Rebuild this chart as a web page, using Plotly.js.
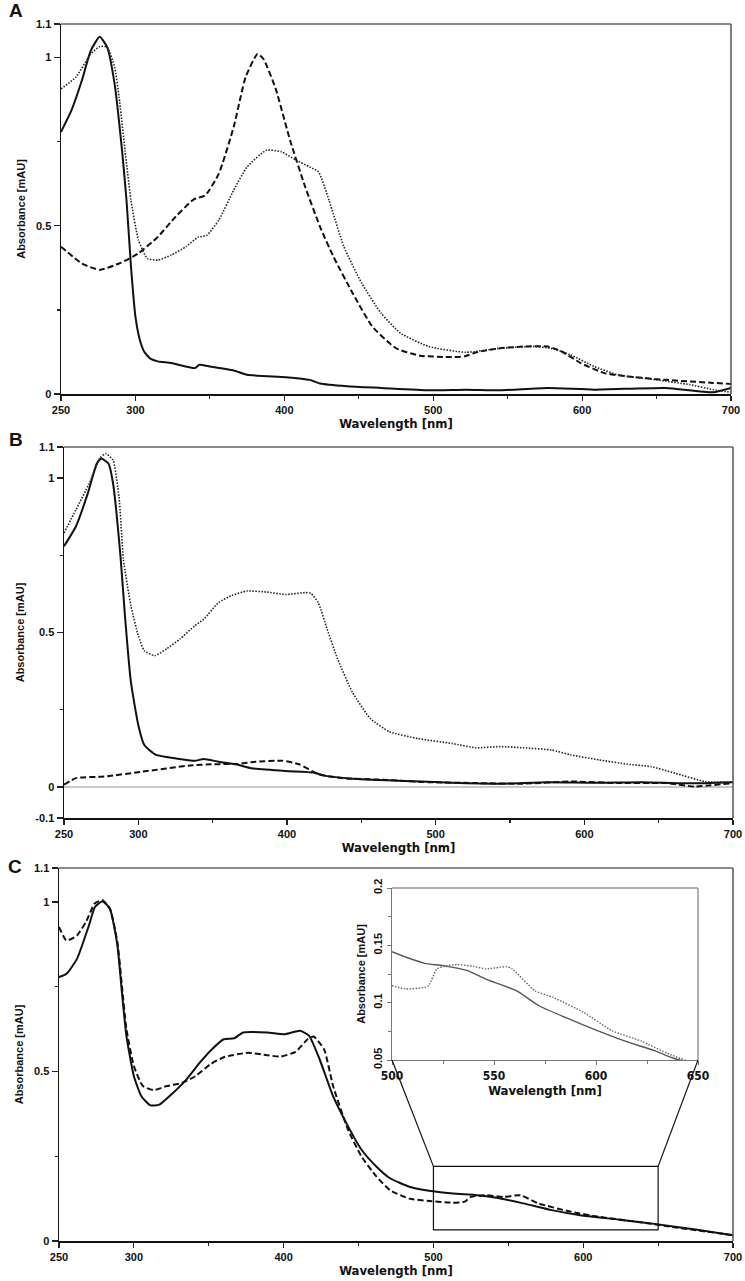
<!DOCTYPE html>
<html>
<head>
<meta charset="utf-8">
<script src="https://cdn.plot.ly/plotly-3.0.1.min.js"></script>
<style>html,body{margin:0;padding:0;background:#fff;}#chart{width:745px;height:1281px;}</style>
</head>
<body>
<div id="chart"></div>
<script>
// ---------------- DATA ----------------
// Panel A
const aSolidX = [250,257,264,270,276,281,286,291,294,297,300,303,306,310,315,324,340,343,350,366,375,401,417,424,442,465,497,522,545,577,608,656,688,700];
const aSolidY = [0.779,0.843,0.932,1.021,1.062,1.031,0.922,0.724,0.576,0.379,0.23,0.16,0.125,0.105,0.097,0.092,0.077,0.087,0.082,0.070,0.057,0.050,0.042,0.031,0.023,0.018,0.011,0.013,0.011,0.018,0.013,0.018,0.005,0.018];
const aDotX = [250,260,270,276,281,286,289,293,297,302,308,315,324,334,342,348,356,366,375,388,398,408,417,423,430,440,452,465,478,497,522,545,567,579,592,608,624,650,672,688,700];
const aDotY = [0.907,0.942,1.011,1.033,1.031,0.972,0.883,0.724,0.576,0.458,0.403,0.398,0.413,0.438,0.466,0.472,0.517,0.606,0.675,0.725,0.720,0.695,0.675,0.660,0.576,0.438,0.329,0.240,0.181,0.141,0.124,0.136,0.141,0.136,0.117,0.082,0.057,0.042,0.028,0.013,0.005];
const aDashX = [250,264,276,289,302,315,327,339,347,356,366,374,382,386,394,404,414,424,433,446,459,475,491,510,521,529,545,561,577,586,599,615,631,656,688,700];
const aDashY = [0.438,0.388,0.369,0.388,0.418,0.467,0.527,0.578,0.591,0.655,0.794,0.942,1.011,0.996,0.910,0.752,0.616,0.497,0.408,0.299,0.201,0.136,0.114,0.110,0.112,0.124,0.136,0.141,0.141,0.127,0.092,0.062,0.052,0.042,0.033,0.030];
// Panel B
const bSolidX = [250,258,266,272,275,280,283,288,291,295,300,304,312,325,338,344,354,367,376,399,418,425,444,479,511,543,575,607,639,671,700];
const bSolidY = [0.779,0.843,0.950,1.046,1.063,1.046,0.982,0.747,0.554,0.340,0.200,0.136,0.104,0.093,0.085,0.091,0.082,0.072,0.061,0.052,0.047,0.037,0.027,0.020,0.014,0.011,0.016,0.014,0.016,0.012,0.016];
const bDotX = [250,258,267,274,278,283,287,290,295,300,304,311,319,328,338,344,354,363,373,386,399,412,416,421,427,434,444,456,469,488,511,527,543,559,578,591,610,629,645,661,681,700];
const bDotY = [0.822,0.897,0.982,1.063,1.079,1.057,0.939,0.736,0.586,0.490,0.441,0.425,0.447,0.479,0.522,0.543,0.597,0.620,0.634,0.631,0.623,0.629,0.627,0.597,0.511,0.415,0.307,0.222,0.179,0.157,0.141,0.127,0.131,0.127,0.120,0.104,0.088,0.074,0.066,0.045,0.018,0.016];
const bDashX = [250,258,277,303,335,351,367,379,397,408,421,437,463,495,527,559,591,623,655,674,700];
const bDashY = [0.008,0.029,0.034,0.050,0.070,0.074,0.075,0.082,0.085,0.074,0.042,0.029,0.024,0.016,0.013,0.011,0.018,0.013,0.013,0.002,0.013];
// Panel C
const cSolidX = [250,255,262,270,274,279,284,289,292,295,300,305,311,317,325,335,344,352,360,367,373,389,401,411,417,424,433,443,452,462,471,484,497,513,529,541,560,579,598,624,650,675,700];
const cSolidY = [0.778,0.788,0.832,0.931,0.985,1.002,0.980,0.872,0.733,0.605,0.486,0.427,0.400,0.402,0.432,0.476,0.526,0.565,0.595,0.598,0.615,0.615,0.610,0.620,0.605,0.536,0.427,0.338,0.269,0.219,0.185,0.160,0.148,0.140,0.135,0.128,0.111,0.091,0.076,0.063,0.049,0.034,0.017];
const cDashX = [250,255,262,268,274,279,284,289,292,295,300,306,313,322,332,341,351,360,376,389,398,408,416,420,427,433,443,452,462,471,484,497,513,521,525,535,547,558,570,592,611,637,662,700];
const cDashY = [0.926,0.886,0.901,0.941,0.996,1.005,0.980,0.881,0.753,0.625,0.516,0.457,0.445,0.457,0.466,0.486,0.521,0.542,0.555,0.548,0.544,0.558,0.595,0.603,0.565,0.457,0.328,0.249,0.190,0.150,0.125,0.118,0.113,0.116,0.130,0.135,0.130,0.135,0.111,0.086,0.071,0.056,0.040,0.017];
// Inset (zoom of panel C)
const insSolidX = [500,507,516,525,537,546,561,572,587,601,615,629,638,643];
const insSolidY = [0.1445,0.1396,0.1343,0.1323,0.1279,0.1206,0.1104,0.0973,0.0856,0.0754,0.0660,0.0579,0.0515,0.049];
const insDotX = [500,507,516,518,522,527,532,540,546,556,559,570,579,594,608,622,636,644];
const insDotY = [0.1148,0.1119,0.1133,0.1148,0.1294,0.1323,0.1332,0.1317,0.1294,0.1314,0.1294,0.1104,0.1046,0.0914,0.0754,0.0666,0.0550,0.0497];
// Ticks / labels
const xTicks = [250,300,400,500,600,700];
const xMinor = [350,450,550,650];
const yTicksAC = [0,0.5,1,1.1];
const yTicksB = [-0.1,0,0.5,1,1.1];
const yMinor = [0.25,0.75];
const insXTicks = [500,550,600,650];
const insXMinor = [525,575,625];
const insYTicks = [0.05,0.1,0.15,0.2];
const insYMinor = [0.075,0.125,0.175];
const zoomBox = {x0:500, x1:650, y0:0.033, y1:0.22};
const panelLetters = ['A','B','C'];
const xTitle = 'Wavelength [nm]';
const yTitle = 'Absorbance [mAU]';

// ---------------- LAYOUT ----------------
const W = 745, H = 1281;
const dx = (l, r) => [l / W, r / W];
const dy = (top, bottom) => [1 - bottom / H, 1 - top / H];

const FONT = 'Liberation Sans, Arial, sans-serif';
const NARROW = 'DejaVu Sans Condensed, Liberation Sans Narrow, Arial Narrow, sans-serif';

const solid = {color:'#111', width:2, dash:'solid'};
const dashed = {color:'#111', width:2, dash:'6px,3px'};
const dotted = {color:'#222', width:1.6, dash:'1.5px,1.5px'};

function tr(x, y, line, xa, ya) {
  return {x:x, y:y, type:'scatter', mode:'lines', line:Object.assign({shape:'spline', smoothing:0.5}, line), xaxis:xa, yaxis:ya, showlegend:false, hoverinfo:'skip'};
}

const data = [
  tr(aSolidX, aSolidY, solid, 'x', 'y'),
  tr(aDashX, aDashY, dashed, 'x', 'y'),
  tr(aDotX, aDotY, dotted, 'x', 'y'),
  tr(bSolidX, bSolidY, solid, 'x2', 'y2'),
  tr(bDashX, bDashY, dashed, 'x2', 'y2'),
  tr(bDotX, bDotY, dotted, 'x2', 'y2'),
  tr(cSolidX, cSolidY, solid, 'x3', 'y3'),
  tr(cDashX, cDashY, dashed, 'x3', 'y3'),
  tr(insSolidX, insSolidY, {color:'#555', width:1.4}, 'x4', 'y4'),
  tr(insDotX, insDotY, {color:'#666', width:1.4, dash:'1.5px,1.5px'}, 'x4', 'y4')
];

function xAxis(domain, anchor) {
  return {
    domain: domain, anchor: anchor, range: [250, 700],
    tickmode: 'array', tickvals: xTicks, ticktext: xTicks.map(String),
    ticks: 'outside', ticklen: 5, tickwidth: 1.2, tickcolor: '#222',
    showline: true, linecolor: '#111', linewidth: 1.5,
    showgrid: false, zeroline: false, automargin: false,
    tickfont: {family: FONT, size: 11, weight: 'bold', color: '#111'},
    minor: {tickmode: 'array', tickvals: xMinor, ticks: 'outside', ticklen: 3, tickcolor: '#222', showgrid: false},
    title: {text: xTitle, font: {family: NARROW, size: 13, weight: 'bold', color: '#111'}, standoff: 4}
  };
}
function yAxis(domain, anchor, range, ticks, zl) {
  return {
    domain: domain, anchor: anchor, range: range,
    tickmode: 'array', tickvals: ticks, ticktext: ticks.map(String),
    ticks: 'outside', ticklen: 6, tickwidth: 1.2, tickcolor: '#222',
    showline: true, linecolor: '#111', linewidth: 1.5,
    showgrid: false, zeroline: zl, zerolinecolor: '#c8c8c8', zerolinewidth: 1.2, automargin: false,
    tickfont: {family: FONT, size: 11, weight: 'bold', color: '#111'},
    minor: {tickmode: 'array', tickvals: yMinor, ticks: 'outside', ticklen: 3, tickcolor: '#222', showgrid: false},
    title: {text: yTitle, font: {family: FONT, size: 11, weight: 'bold', color: '#111'}, standoff: 8}
  };
}

const layout = {
  width: W, height: H,
  margin: {l: 0, r: 0, t: 0, b: 0},
  paper_bgcolor: '#fff', plot_bgcolor: 'rgba(0,0,0,0)',
  showlegend: false,
  xaxis: xAxis(dx(61, 731), 'y'),
  yaxis: yAxis(dy(24, 394), 'x', [0, 1.1], yTicksAC, false),
  xaxis2: xAxis(dx(64, 733), 'y2'),
  yaxis2: yAxis(dy(447, 818), 'x2', [-0.1, 1.1], yTicksB, true),
  xaxis3: xAxis(dx(59, 733), 'y3'),
  yaxis3: yAxis(dy(868, 1241), 'x3', [0, 1.1], yTicksAC, false),
  xaxis4: {
    domain: dx(392, 698), anchor: 'y4', range: [500, 650],
    tickmode: 'array', tickvals: insXTicks, ticktext: insXTicks.map(String),
    ticks: 'outside', ticklen: 4, tickcolor: '#777',
    showline: true, linecolor: '#777', linewidth: 1.3, showgrid: false, zeroline: false, automargin: false,
    tickfont: {family: NARROW, size: 12, weight: 'bold', color: '#111'},
    minor: {tickmode: 'array', tickvals: insXMinor, ticks: 'outside', ticklen: 3, tickcolor: '#777', showgrid: false},
    title: {text: xTitle, font: {family: NARROW, size: 13, weight: 'bold', color: '#111'}, standoff: 4}
  },
  yaxis4: {
    domain: dy(888, 1060), anchor: 'x4', range: [0.05, 0.2],
    tickmode: 'array', tickvals: insYTicks, ticktext: insYTicks.map(String), tickangle: -90,
    ticks: 'outside', ticklen: 4, tickcolor: '#777',
    showline: true, linecolor: '#777', linewidth: 1.3, showgrid: false, zeroline: false, automargin: false,
    tickfont: {family: FONT, size: 11, weight: 'bold', color: '#111'},
    minor: {tickmode: 'array', tickvals: insYMinor, ticks: 'outside', ticklen: 3, tickcolor: '#777', showgrid: false},
    title: {text: yTitle, font: {family: FONT, size: 11, weight: 'bold', color: '#111'}, standoff: 4}
  },
  shapes: [],
  annotations: []
};

// frame lines (top / right) for main panels
[['x','y'],['x2','y2'],['x3','y3']].forEach(([xa, ya]) => {
  layout.shapes.push({type:'line', xref:xa+' domain', yref:ya+' domain', x0:0, x1:1, y0:1, y1:1, line:{color:'#666', width:1.5}});
  layout.shapes.push({type:'line', xref:xa+' domain', yref:ya+' domain', x0:1, x1:1, y0:0, y1:1, line:{color:'#555', width:1.5}});
});
// inset frame
layout.shapes.push({type:'line', xref:'x4 domain', yref:'y4 domain', x0:0, x1:1, y0:1, y1:1, line:{color:'#999', width:1.5}});
layout.shapes.push({type:'line', xref:'x4 domain', yref:'y4 domain', x0:1, x1:1, y0:0, y1:1, line:{color:'#999', width:1.5}});
// zoom rectangle on panel C
layout.shapes.push({type:'rect', xref:'x3', yref:'y3', x0:zoomBox.x0, x1:zoomBox.x1, y0:zoomBox.y0, y1:zoomBox.y1, line:{color:'#111', width:1.2}});
// connectors from rectangle top corners to inset bottom corners
function toPaper(xv, yv, xa, ya) {
  const px = xa.domain[0] + (xv - xa.range[0]) / (xa.range[1] - xa.range[0]) * (xa.domain[1] - xa.domain[0]);
  const py = ya.domain[0] + (yv - ya.range[0]) / (ya.range[1] - ya.range[0]) * (ya.domain[1] - ya.domain[0]);
  return [px, py];
}
const r0 = toPaper(zoomBox.x0, zoomBox.y1, layout.xaxis3, layout.yaxis3);
const r1 = toPaper(zoomBox.x1, zoomBox.y1, layout.xaxis3, layout.yaxis3);
const i0 = toPaper(layout.xaxis4.range[0], layout.yaxis4.range[0], layout.xaxis4, layout.yaxis4);
const i1 = toPaper(layout.xaxis4.range[1], layout.yaxis4.range[0], layout.xaxis4, layout.yaxis4);
layout.shapes.push({type:'line', xref:'paper', yref:'paper', x0:r0[0], y0:r0[1], x1:i0[0], y1:i0[1], line:{color:'#111', width:1.2}});
layout.shapes.push({type:'line', xref:'paper', yref:'paper', x0:r1[0], y0:r1[1], x1:i1[0], y1:i1[1], line:{color:'#111', width:1.2}});

// panel letters
const letterPos = [[16, 10], [16, 440], [15, 866]];
panelLetters.forEach((t, i) => {
  layout.annotations.push({text: t, xref:'paper', yref:'paper', x: letterPos[i][0] / W, y: 1 - letterPos[i][1] / H,
    xanchor:'center', yanchor:'middle', showarrow:false, font:{family: FONT, size: 19, weight: 'bold', color:'#111'}});
});

Plotly.newPlot('chart', data, layout, {staticPlot: true, displayModeBar: false});
</script>
</body>
</html>
